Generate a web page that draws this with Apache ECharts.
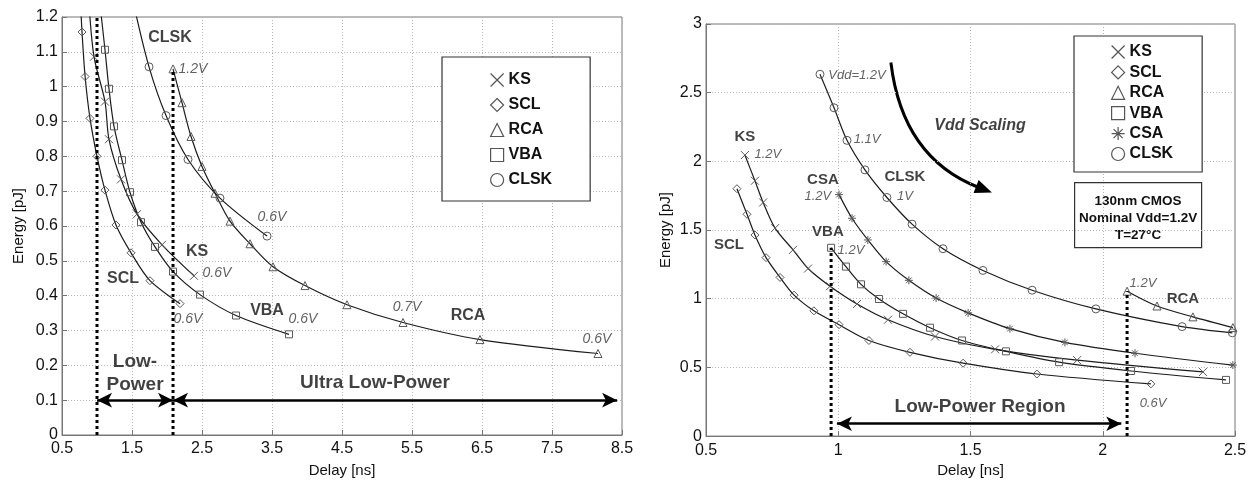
<!DOCTYPE html>
<html>
<head>
<meta charset="utf-8">
<script src="https://cdn.jsdelivr.net/npm/echarts@6/dist/echarts.min.js"></script>
<style>
html, body { margin: 0; padding: 0; background: #fff; }
#main { width: 1253px; height: 483px; }
</style>
</head>
<body>
<div id="main"></div>
<script>
// ---- left panel: delay [ns] / energy [pJ] ----
var L_SCL = [[0.786,1.157],[0.83,1.029],[0.9,0.909],[1.0,0.8],[1.114,0.703],[1.271,0.603],[1.486,0.523],[1.757,0.443],[2.186,0.377]];
var L_KS = [[0.957,1.086],[1.114,0.957],[1.171,0.849],[1.343,0.734],[1.571,0.634],[1.929,0.546],[2.386,0.457]];
var L_VBA = [[1.114,1.106],[1.171,0.994],[1.243,0.886],[1.357,0.789],[1.471,0.697],[1.629,0.611],[1.829,0.54],[2.086,0.469],[2.471,0.403],[2.986,0.343],[3.743,0.289]];
var L_CLSK = [[1.743,1.057],[1.986,0.917],[2.3,0.791],[2.757,0.68],[3.429,0.571]];
var L_RCA = [[2.086,1.051],[2.214,0.954],[2.343,0.857],[2.5,0.771],[2.686,0.694],[2.9,0.614],[3.186,0.549],[3.514,0.483],[3.971,0.429],[4.571,0.374],[5.371,0.323],[6.471,0.274],[8.157,0.234]];
// where the fitted curves run off the top of the plot
var L_TOP = { SCL: [0.765,1.24], KS: [0.885,1.24], VBA: [1.04,1.24], CLSK: [1.52,1.24] };
var L_DIV_X = [1.0, 2.086];
var L_DIV_TOP = [1.2, 1.051];
var L_ARROWS = [[1.0, 2.086, 0.1], [2.086, 8.43, 0.1]];

var L_NAMES = [[2.043,1.14,'CLSK'],[2.429,0.526,'KS'],[1.371,0.449,'SCL'],[3.429,0.357,'VBA'],[6.3,0.343,'RCA']];
var L_VOLTS = [[2.371,1.051,'1.2V'],[3.5,0.626,'0.6V'],[2.714,0.466,'0.6V'],[2.3,0.334,'0.6V'],[3.943,0.334,'0.6V'],[5.429,0.366,'0.7V'],[8.143,0.274,'0.6V']];
var L_REGIONS = [[1.543,0.211,'Low-'],[1.543,0.143,'Power'],[4.971,0.149,'Ultra Low-Power']];
var L_LEGEND = ['KS','SCL','RCA','VBA','CLSK'];

// ---- right panel ----
var R_KS = [[0.647,2.046],[0.685,1.859],[0.716,1.701],[0.761,1.514],[0.829,1.356],[0.886,1.22],[0.969,1.091],[1.071,0.962],[1.188,0.847],[1.366,0.725],[1.593,0.632],[1.903,0.553],[2.379,0.467]];
var R_SCL = [[0.617,1.801],[0.655,1.615],[0.685,1.464],[0.727,1.299],[0.78,1.155],[0.833,1.026],[0.908,0.912],[1.003,0.811],[1.116,0.696],[1.271,0.61],[1.472,0.531],[1.751,0.452],[2.182,0.38]];
var R_VBA = [[0.973,1.371],[1.029,1.234],[1.086,1.105],[1.154,0.998],[1.245,0.89],[1.347,0.789],[1.468,0.696],[1.634,0.617],[1.835,0.538],[2.107,0.474],[2.466,0.409]];
var R_CSA = [[1.003,1.758],[1.052,1.586],[1.112,1.428],[1.181,1.27],[1.267,1.134],[1.37,1.005],[1.491,0.897],[1.649,0.782],[1.857,0.682],[2.122,0.603],[2.492,0.517]];
var R_CLSK = [[0.931,2.634],[0.984,2.39],[1.033,2.153],[1.101,1.938],[1.184,1.737],[1.279,1.543],[1.396,1.364],[1.547,1.206],[1.733,1.062],[1.974,0.926],[2.3,0.797],[2.49,0.752]];
var R_RCA = [[2.092,1.055],[2.205,0.947],[2.341,0.868],[2.492,0.79]];
var R_DIV_X = [0.973, 2.092];
var R_DIV_TOP = [1.371, 1.055];
var R_ARROWS = [[0.995, 2.07, 0.09]];
var R_SCALING = [[1.199, 2.72], [1.581, 1.773]];

var R_NAMES = [[0.647,2.182,'KS'],[0.587,1.392,'SCL'],[0.942,1.866,'CSA'],[0.961,1.486,'VBA'],[1.252,1.888,'CLSK'],[2.303,0.998,'RCA']];
var R_VOLTS = [[1.071,2.627,'Vdd=1.2V'],[1.109,2.16,'1.1V'],[1.252,1.744,'1V'],[0.734,2.053,'1.2V'],[0.923,1.744,'1.2V'],[1.048,1.349,'1.2V'],[2.152,1.112,'1.2V'],[2.19,0.237,'0.6V']];
var R_REGIONS = [[1.536,0.215,'Low-Power Region']];
var R_NOTE = [[1.536,2.261,'Vdd Scaling']];
var R_LEGEND = ['KS','SCL','RCA','VBA','CSA','CLSK'];
var INFO_LINES = ['130nm CMOS', 'Nominal Vdd=1.2V', 'T=27°C'];

var FONT = '"Liberation Sans", Arial, Helvetica, sans-serif';
var SYM = {
    KS: 'path://M0,0L10,10M10,0L0,10',
    SCL: 'diamond',
    RCA: 'triangle',
    VBA: 'rect',
    CSA: 'path://M5,0L5,10M0,5L10,5M1.5,1.5L8.5,8.5M8.5,1.5L1.5,8.5',
    CLSK: 'circle'
};

var chart = echarts.init(document.getElementById('main'));

function curve(name, pts, top, xi) {
    var data = pts.slice();
    if (top) data.unshift({ value: top, symbol: 'none' });
    return {
        name: name, type: 'line', xAxisIndex: xi, yAxisIndex: xi,
        data: data, smooth: 0.3, showAllSymbol: true,
        symbol: SYM[name], symbolSize: name === 'VBA' ? 7 : 8,
        lineStyle: { color: '#1c1c1c', width: 1.2 },
        itemStyle: { color: 'transparent', borderColor: '#5a5a5a', borderWidth: 1 },
        silent: true, z: 3
    };
}

function divider(x, top, xi, marks) {
    var s = {
        type: 'line', xAxisIndex: xi, yAxisIndex: xi, silent: true, symbol: 'none',
        data: [[x, 0], [x, top]],
        lineStyle: { color: '#000', width: 3, type: [3, 3] }, z: 4
    };
    if (marks) s.markLine = marks;
    return s;
}

function arrowLines(list) {
    return {
        silent: true, symbol: ['arrow', 'arrow'], symbolSize: [11, 15],
        label: { show: false },
        lineStyle: { color: '#000', width: 2.5, type: 'solid' },
        data: list.map(function (a) {
            return [{ coord: [a[0], a[2]] }, { coord: [a[1], a[2]] }];
        })
    };
}

function labels(items, xi, style) {
    return {
        type: 'scatter', xAxisIndex: xi, yAxisIndex: xi, silent: true,
        symbolSize: 0, itemStyle: { color: 'transparent' },
        data: items.map(function (d) { return { value: [d[0], d[1]], name: d[2] }; }),
        label: Object.assign({ show: true, position: 'inside', formatter: '{b}', fontFamily: FONT }, style),
        z: 6
    };
}

var bold = { fontSize: 16, fontWeight: 'bold', color: '#111' };
var big = { fontSize: 19, fontWeight: 'bold', color: '#111' };
var italicL = { fontSize: 14, fontStyle: 'italic', color: '#3a3a3a' };
var italicR = { fontSize: 13, fontStyle: 'italic', color: '#3a3a3a' };

function xAxis(gi, min, max, step, gap) {
    return {
        type: 'value', gridIndex: gi, min: min, max: max, interval: step,
        name: 'Delay [ns]', nameLocation: 'middle', nameGap: gap,
        nameTextStyle: { fontFamily: FONT, fontSize: 15, color: '#111' },
        axisLine: { onZero: false, lineStyle: { color: '#777' } },
        axisTick: { inside: true, length: 5, lineStyle: { color: '#777' } },
        axisLabel: { fontFamily: FONT, fontSize: 16, color: '#111', margin: 6 },
        splitLine: { show: true, lineStyle: { type: [1, 2], color: '#b8b8b8' } }
    };
}

function yAxis(gi, max, step, gap) {
    return {
        type: 'value', gridIndex: gi, min: 0, max: max, interval: step,
        name: 'Energy [pJ]', nameLocation: 'middle', nameGap: gap,
        nameTextStyle: { fontFamily: FONT, fontSize: 15, color: '#111' },
        axisLine: { show: true, lineStyle: { color: '#777' } },
        axisTick: { show: true, inside: true, length: 5, lineStyle: { color: '#777' } },
        axisLabel: { fontFamily: FONT, fontSize: 16, color: '#111', margin: 4 },
        splitLine: { show: true, lineStyle: { type: [1, 2], color: '#b8b8b8' } }
    };
}

function legend(names, box) {
    return {
        orient: 'vertical', left: box.left, top: box.top, padding: box.padding,
        itemGap: box.gap, itemWidth: 13, itemHeight: 13,
        backgroundColor: '#fff', borderColor: '#333', borderWidth: 1.2, borderRadius: 0,
        selectedMode: false,
        data: names.map(function (n) { return { name: n, icon: SYM[n] }; }),
        itemStyle: { color: 'transparent', borderColor: '#555', borderWidth: 1.2 },
        textStyle: { fontFamily: FONT, fontSize: 16, fontWeight: 'bold', color: '#111', lineHeight: 16 }
    };
}

var series = [
    curve('SCL', L_SCL, L_TOP.SCL, 0),
    curve('KS', L_KS, L_TOP.KS, 0),
    curve('VBA', L_VBA, L_TOP.VBA, 0),
    curve('CLSK', L_CLSK, L_TOP.CLSK, 0),
    curve('RCA', L_RCA, null, 0),
    divider(L_DIV_X[0], L_DIV_TOP[0], 0, arrowLines(L_ARROWS)),
    divider(L_DIV_X[1], L_DIV_TOP[1], 0),
    labels(L_NAMES, 0, bold),
    labels(L_VOLTS, 0, italicL),
    labels(L_REGIONS, 0, big),

    curve('SCL', R_SCL, null, 1),
    curve('KS', R_KS, null, 1),
    curve('VBA', R_VBA, null, 1),
    curve('CSA', R_CSA, null, 1),
    curve('CLSK', R_CLSK, null, 1),
    curve('RCA', R_RCA, null, 1),
    divider(R_DIV_X[0], R_DIV_TOP[0], 1, arrowLines(R_ARROWS)),
    divider(R_DIV_X[1], R_DIV_TOP[1], 1),
    labels(R_NAMES, 1, { fontSize: 15, fontWeight: 'bold', color: '#111' }),
    labels(R_VOLTS, 1, italicR),
    labels(R_REGIONS, 1, big),
    labels(R_NOTE, 1, { fontSize: 16, fontWeight: 'bold', fontStyle: 'italic', color: '#111' })
];

var infoBox = {
    type: 'group', left: 1074, top: 182, z: 20,
    children: [{
        type: 'rect', shape: { x: 0, y: 0, width: 127, height: 65 },
        style: { fill: '#fff', stroke: '#333', lineWidth: 1.2 }
    }].concat(INFO_LINES.map(function (t, i) {
        return {
            type: 'text', x: 63.5, y: 19 + i * 17,
            style: { text: t, fill: '#111', font: 'bold 13.5px ' + FONT, align: 'center', verticalAlign: 'middle' }
        };
    }))
};

var option = {
    animation: false,
    backgroundColor: '#fff',
    grid: [
        { left: 62, top: 17, width: 560, height: 420, show: true, borderColor: '#777', borderWidth: 1 },
        { left: 706, top: 24, width: 529, height: 418, show: true, borderColor: '#777', borderWidth: 1 }
    ],
    xAxis: [xAxis(0, 0.5, 8.5, 1, 28), xAxis(1, 0.5, 2.5, 0.5, 24)],
    yAxis: [yAxis(0, 1.2, 0.1, 36), yAxis(1, 3, 0.5, 33)],
    legend: [
        legend(L_LEGEND, { left: 442, top: 57, padding: [15, 38, 13, 48], gap: 9 }),
        legend(R_LEGEND, { left: 1074, top: 36, padding: [8, 29, 10, 37], gap: 4.4 })
    ],
    graphic: [infoBox],
    series: series
};

chart.setOption(option);

// curved "Vdd Scaling" arrow: quadratic bezier between the two data points, bowed down-left
var p0 = chart.convertToPixel({ gridIndex: 1 }, R_SCALING[0]);
var p1 = chart.convertToPixel({ gridIndex: 1 }, R_SCALING[1]);
var k = 0.3;
var cp = [(p0[0] + p1[0]) / 2 + (p0[1] - p1[1]) * k, (p0[1] + p1[1]) / 2 + (p1[0] - p0[0]) * k];
var dx = p1[0] - cp[0], dy = p1[1] - cp[1];
var len = Math.sqrt(dx * dx + dy * dy);
dx /= len; dy /= len;
var headL = 17, headW = 7;
var base = [p1[0] - dx * headL, p1[1] - dy * headL];
chart.setOption({
    graphic: [infoBox, {
        type: 'group', z: 15, silent: true,
        children: [{
            type: 'bezierCurve',
            shape: { x1: p0[0], y1: p0[1], x2: base[0] + dx * 3, y2: base[1] + dy * 3, cpx1: cp[0], cpy1: cp[1] },
            style: { stroke: '#000', lineWidth: 3, fill: null }
        }, {
            type: 'polygon',
            shape: { points: [p1, [base[0] - dy * headW, base[1] + dx * headW], [base[0] + dy * headW, base[1] - dx * headW]] },
            style: { fill: '#000' }
        }]
    }]
});
</script>
</body>
</html>
